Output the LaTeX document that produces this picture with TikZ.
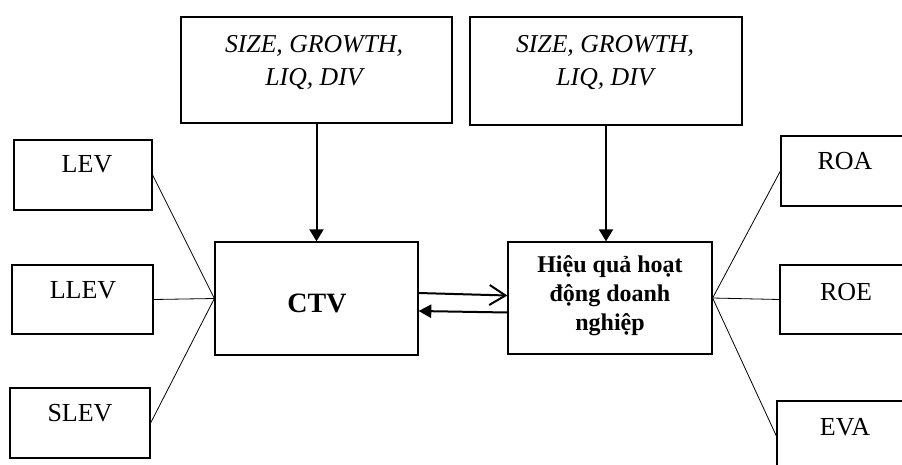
\documentclass[tikz,border=0pt]{standalone}
\usepackage{fontspec}
\setmainfont{Liberation Serif}
\usetikzlibrary{arrows.meta,calc}
\begin{document}
\begin{tikzpicture}[x=0.75pt,y=-0.75pt,
  box/.style 2 args={draw, line width=0.95pt, inner sep=0pt,
    minimum width=#1*0.75pt, minimum height=#2*0.75pt},
  txt/.style={font=\fontsize{19.5}{24}\selectfont, anchor=base, inner sep=0pt},
  itxt/.style={font=\fontsize{19.3}{24.75}\selectfont\itshape, anchor=base, inner sep=0pt, align=center},
  btxt/.style={font=\fontsize{18}{21.75}\selectfont\bfseries, anchor=base, inner sep=0pt, align=center},
  thinline/.style={line width=0.6pt},
  arr/.style={line width=1.5pt}
]
\clip (0,0) rectangle (902,464);
% boxes
\node[box={271}{106}] (tl) at (316.5,70) {};
\node[box={272}{108}] (tr) at (606,71) {};
\node[box={138}{70}] (lev) at (83,175) {};
\node[box={141}{69}] (llev) at (82.5,299.5) {};
\node[box={140}{70}] (slev) at (80,423) {};
\node[box={203}{113}] (ctv) at (316.5,298.5) {};
\node[box={204}{112}] (hieu) at (610,298) {};
\node[box={140}{70}] (roa) at (851,171) {};
\node[box={140}{69}] (roe) at (850,299.5) {};
\node[box={140}{70}] (eva) at (847,436) {};
% texts (base anchor = baseline of the last line)
\node[itxt] (tltxt) at (314,85) {\textit{SIZE}, \textit{GROWTH},\\ \textit{LIQ}, \textit{DIV}};
\node[itxt] (trtxt) at (605,85) {\textit{SIZE}, \textit{GROWTH},\\ \textit{LIQ}, \textit{DIV}};
\node[txt] (levtxt) at (87,172) {LEV};
\node[txt] (llevtxt) at (83,298) {LLEV};
\node[txt] (slevtxt) at (80,421) {SLEV};
\node[txt] (roatxt) at (845,169) {ROA};
\node[txt] (roetxt) at (846,300) {ROE};
\node[txt] (evatxt) at (845,435) {EVA};
\node[font=\fontsize{21}{25}\selectfont\bfseries, anchor=base, inner sep=0pt] (ctvtxt) at (317,312) {CTV};
\node[btxt] (hieutxt) at (610,330) {Hiệu quả hoạt\\động doanh\\nghiệp};
% connectors left
\draw[thinline] (lev.east) -- (ctv.west);
\draw[thinline] (llev.east) -- (ctv.west);
\draw[thinline] (slev.east) -- (ctv.west);
% connectors right
\draw[thinline] (hieu.east) -- (roa.west);
\draw[thinline] (hieu.east) -- (roe.west);
\draw[thinline] (hieu.east) -- (eva.west);
% vertical arrows
\draw[arr, -{Triangle[length=9pt,width=10.5pt]}] (tl.south) -- (ctv.north);
\draw[arr, -{Triangle[length=9pt,width=10.5pt]}] (tr.south) -- (tr.south |- hieu.north);
% horizontal arrows
\draw[arr, -{Straight Barb[length=12pt,width=15pt]}] ($(ctv.east)+(0,-5.5)$) -- ($(hieu.west)+(0,-2.5)$);
\draw[arr, -{Triangle[length=9.5pt,width=10pt]}] ($(hieu.west)+(0,14.5)$) -- ($(ctv.east)+(0,12.5)$);
\end{tikzpicture}
\end{document}
